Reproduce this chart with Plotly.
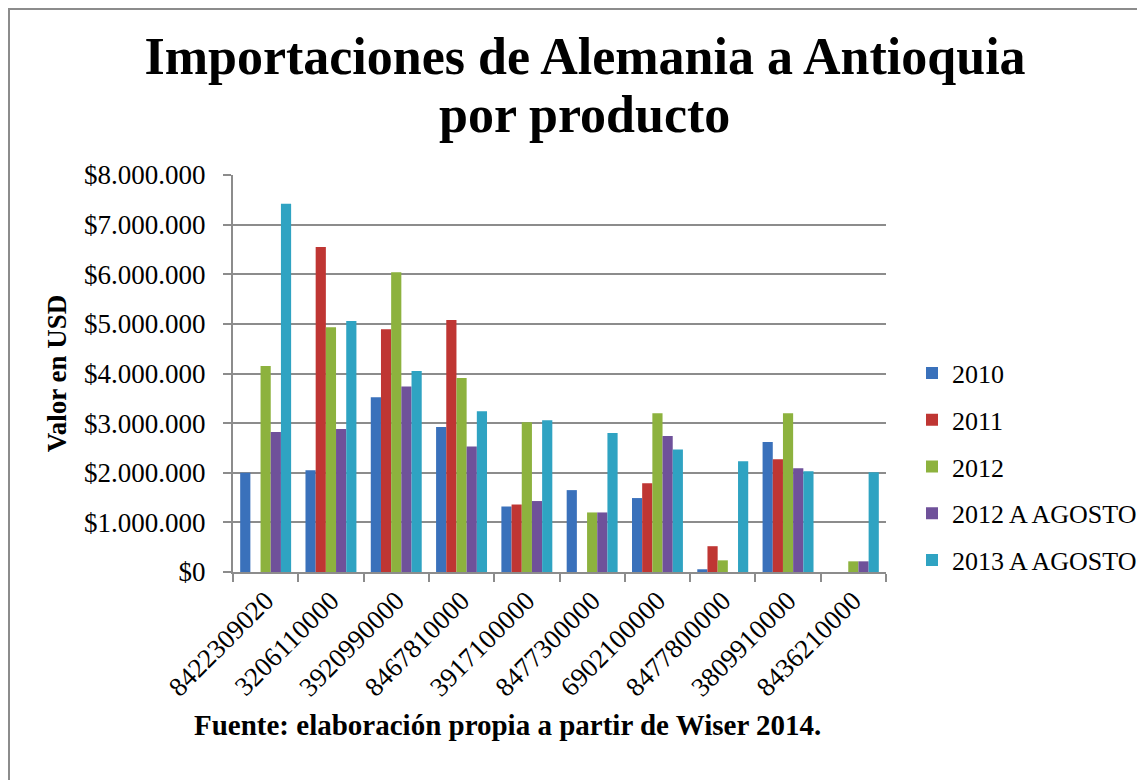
import plotly.graph_objects as go

categories = ["8422309020", "3206110000", "3920990000", "8467810000", "3917100000",
              "8477300000", "6902100000", "8477800000", "3809910000", "8436210000"]

v2010 = [2000000, 2050000, 3520000, 2920000, 1320000, 1650000, 1490000, 55000, 2620000, 0]
v2011 = [0, 6550000, 4890000, 5080000, 1360000, 0, 1790000, 520000, 2270000, 0]
v2012 = [4150000, 4930000, 6040000, 3910000, 3020000, 1200000, 3200000, 235000, 3200000, 215000]
v2012_ago = [2820000, 2880000, 3740000, 2530000, 1430000, 1200000, 2740000, 0, 2090000, 215000]
v2013_ago = [7420000, 5060000, 4050000, 3240000, 3060000, 2800000, 2470000, 2230000, 2030000, 2010000]

series_names = ["2010", "2011", "2012", "2012 A AGOSTO", "2013 A AGOSTO"]
series_values = [v2010, v2011, v2012, v2012_ago, v2013_ago]
series_colors = ["#3A71BB", "#BF3633", "#8DB23E", "#6F519A", "#2FA3C2"]

y_tick_vals = [0, 1000000, 2000000, 3000000, 4000000, 5000000, 6000000, 7000000, 8000000]
y_tick_text = ["$0", "$1.000.000", "$2.000.000", "$3.000.000", "$4.000.000",
               "$5.000.000", "$6.000.000", "$7.000.000", "$8.000.000"]

FONT = "Liberation Serif"
# page body has an 8px margin, so the figure starts at (8, 8) in the window
OFF = 8
W, H = 1145 - OFF, 780 - OFF
L, T = 233 - OFF, 175 - OFF
R = W - (886 - OFF)
B = H - (572 - OFF)
PW = W - L - R
PH = H - T - B


def px(x):
    """window x -> paper x"""
    return (x - OFF - L) / PW


def py(y):
    """window y -> paper y"""
    return (H - B - (y - OFF)) / PH


fig = go.Figure()
for name, vals, col in zip(series_names, series_values, series_colors):
    fig.add_trace(go.Bar(
        x=categories, y=vals, name=name,
        marker=dict(color=col, line=dict(width=0)),
        legendgroup=name,
    ))

fig.update_layout(
    width=W, height=H,
    margin=dict(l=L, r=R, t=T, b=B, autoexpand=False),
    paper_bgcolor="white", plot_bgcolor="white",
    barmode="group", bargap=0.22, bargroupgap=0,
    font=dict(family=FONT, color="black", size=27),
    title=dict(
        text="<b>Importaciones de Alemania a Antioquia</b>",
        x=(585 - OFF) / W, xanchor="center",
        y=1 - 30 / H, yanchor="top", yref="container",
        font=dict(family=FONT, size=52, color="black"),
    ),
    xaxis=dict(
        type="category",
        tickangle=-45,
        ticks="outside", tickson="boundaries", ticklen=8, tickwidth=2, tickcolor="#8c8c8c",
        showline=True, linecolor="#8c8c8c", linewidth=2,
        showgrid=False,
        tickfont=dict(family=FONT, size=27, color="black"),
        automargin=False,
    ),
    yaxis=dict(
        range=[0, 8000000],
        tickvals=y_tick_vals, ticktext=y_tick_text,
        ticks="outside", ticklen=8, tickwidth=2, tickcolor="#8c8c8c",
        showline=True, linecolor="#8c8c8c", linewidth=2,
        showgrid=True, gridcolor="#8c8c8c", gridwidth=2,
        zeroline=False,
        tickfont=dict(family=FONT, size=27, color="black"),
        ticklabelstandoff=12,
        title=dict(text="<b>Valor en USD</b>", font=dict(family=FONT, size=27, color="black"), standoff=10),
        automargin=False,
    ),
    legend=dict(
        x=px(912), xanchor="left",
        y=py(467), yanchor="middle",
        font=dict(family=FONT, size=26, color="black"),
        traceorder="grouped", tracegroupgap=10,
        bgcolor="rgba(0,0,0,0)",
    ),
    showlegend=True,
)

# second line of the title
fig.add_annotation(
    text="<b>por producto</b>",
    xref="paper", yref="paper", x=px(584), y=py(114),
    xanchor="center", yanchor="middle", showarrow=False,
    font=dict(family=FONT, size=52, color="black"),
)

fig.add_annotation(
    text="<b>Fuente: elaboración propia a partir de Wiser 2014.</b>",
    xref="paper", yref="paper", x=px(507), y=py(725),
    xanchor="center", yanchor="middle", showarrow=False,
    font=dict(family=FONT, size=29, color="black"),
)

fig.add_shape(
    type="rect", xref="paper", yref="paper",
    x0=px(9), x1=px(1160), y0=py(800), y1=py(9),
    line=dict(color="#8c8c8c", width=2), fillcolor="rgba(0,0,0,0)", layer="below",
)

fig.write_html("out.html")
